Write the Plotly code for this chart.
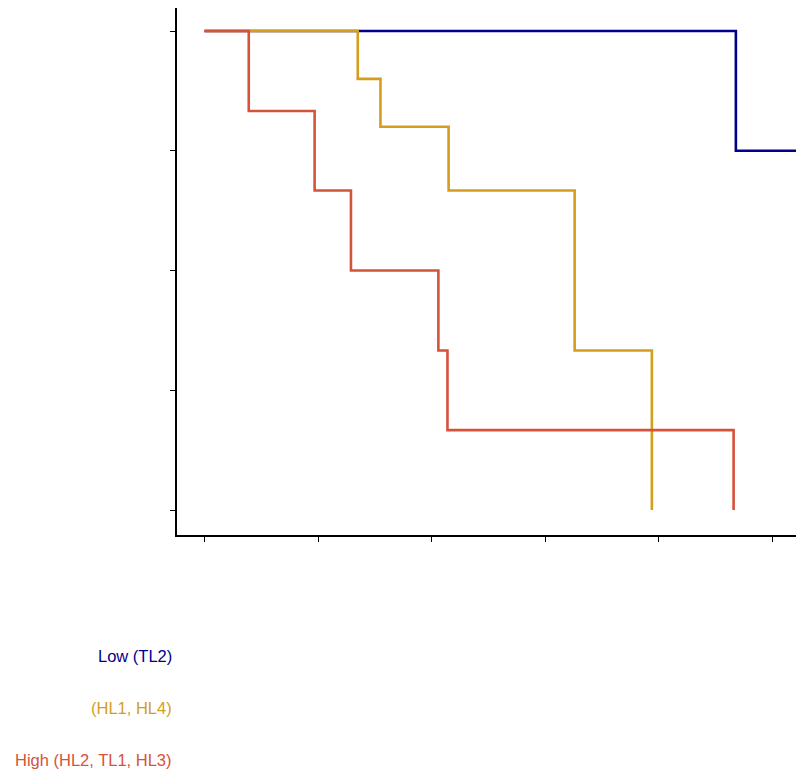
import plotly.graph_objects as go

# Kaplan-Meier style survival curves (time units arbitrary, ticks unlabeled)
low_label = "Low (TL2)"
low_time = [0, 46.8, 52.6]
low_surv = [1.0, 0.75, 0.75]

mid_label = "(HL1, HL4)"
mid_time = [0, 13.5, 15.5, 21.5, 32.6, 39.4]
mid_surv = [1.0, 0.9, 0.8, 0.667, 0.333, 0.0]

high_label = "High (HL2, TL1, HL3)"
high_time = [0, 3.9, 9.7, 12.9, 20.6, 21.4, 46.6]
high_surv = [1.0, 0.833, 0.667, 0.5, 0.333, 0.167, 0.0]

x_ticks = [0, 10, 20, 30, 40, 50]
y_ticks = [0, 0.25, 0.5, 0.75, 1.0]

col_low = "#00008B"
col_mid = "#D49E1C"
col_high = "#D5523B"

fig = go.Figure()
for t, s, c, n in [(low_time, low_surv, col_low, low_label),
                   (mid_time, mid_surv, col_mid, mid_label),
                   (high_time, high_surv, col_high, high_label)]:
    fig.add_trace(go.Scatter(x=t, y=s, mode="lines", line=dict(color=c, width=2.6, shape="hv"),
                             name=n, showlegend=False, hoverinfo="skip"))

# page has an 8px body margin; compensate so plot lands where the reference has it
OFF = 8
W, H = 804 - OFF, 773 - OFF
ml, mr, mt = 177 - OFF, 0, 8 - OFF
plot_h = 535 - 8
mb = H - mt - plot_h
fig.update_layout(
    width=W, height=H,
    margin=dict(l=ml, r=mr, t=mt, b=mb, pad=0),
    plot_bgcolor="white", paper_bgcolor="white",
    font=dict(family="Liberation Sans, Arial, Helvetica, sans-serif", size=16),
)
fig.update_xaxes(range=[-2.42, 52.8], tickvals=x_ticks, showticklabels=False,
                 ticks="outside", ticklen=5, tickwidth=1.2, tickcolor="black",
                 showline=True, linecolor="black", linewidth=1.6,
                 showgrid=False, zeroline=False)
fig.update_yaxes(range=[-0.052, 1.048], tickvals=y_ticks, showticklabels=False,
                 ticks="outside", ticklen=5, tickwidth=1.2, tickcolor="black",
                 showline=True, linecolor="black", linewidth=1.6,
                 showgrid=False, zeroline=False)

plot_w = W - ml - mr
for label, c, ypix in [(low_label, col_low, 656), (mid_label, col_mid, 708), (high_label, col_high, 760)]:
    fig.add_annotation(text=label, xref="paper", yref="paper",
                       x=(174 - 177) / plot_w, y=(535 - ypix) / plot_h,
                       xanchor="right", yanchor="middle", showarrow=False,
                       font=dict(color=c, size=16.5))

fig.write_html("out.html")
